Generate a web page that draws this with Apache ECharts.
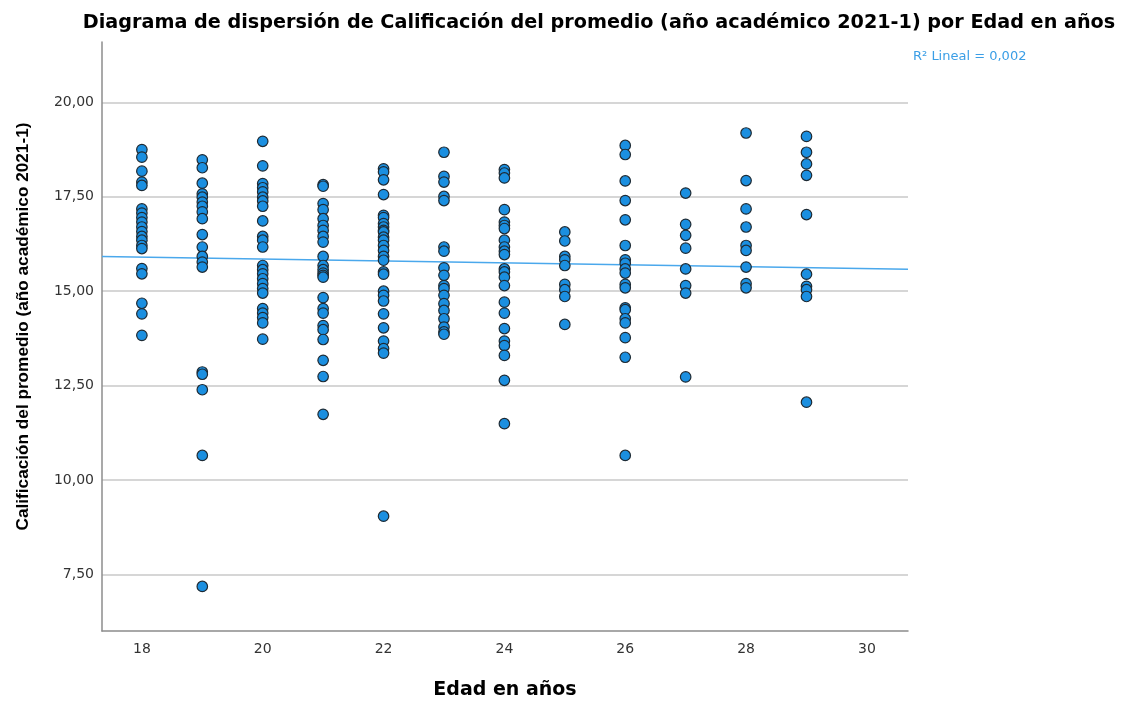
<!DOCTYPE html>
<html>
<head>
<meta charset="utf-8">
<script src="https://cdn.jsdelivr.net/npm/echarts@6/dist/echarts.min.js"></script>
<style>
html,body{margin:0;padding:0;background:#fff;}
#c{width:1126px;height:702px;}
</style>
</head>
<body>
<div id="c"></div>
<script>
const titleText = 'Diagrama de dispersión de Calificación del promedio (año académico 2021-1) por Edad en años';
const xName = 'Edad en años';
const yName = 'Calificación del promedio (año académico 2021-1)';
const r2Text = 'R² Lineal = 0,002';
const xTicks = [18, 20, 22, 24, 26, 28, 30];
const yTicks = [7.5, 10, 12.5, 15, 17.5, 20];

const age18 = [18.75, 18.55, 18.18, 17.89, 17.80, 17.18, 17.07, 16.95, 16.83, 16.70, 16.58, 16.45, 16.35, 16.21, 16.13, 15.60, 15.46, 14.68, 14.40, 13.83];
const age19 = [18.48, 18.27, 17.86, 17.58, 17.49, 17.36, 17.25, 17.10, 16.92, 16.50, 16.17, 15.92, 15.77, 15.64, 12.86, 12.80, 12.39, 10.65, 7.18];
const age20 = [18.97, 18.32, 17.85, 17.74, 17.63, 17.49, 17.39, 17.25, 16.86, 16.45, 16.35, 16.17, 15.68, 15.57, 15.46, 15.33, 15.20, 15.07, 14.95, 14.54, 14.42, 14.30, 14.16, 13.73];
const age21 = [17.82, 17.78, 17.32, 17.16, 16.92, 16.74, 16.61, 16.45, 16.30, 15.92, 15.68, 15.57, 15.48, 15.42, 15.37, 14.83, 14.54, 14.42, 14.09, 13.98, 13.72, 13.17, 12.74, 11.74];
const age22 = [18.24, 18.16, 17.95, 17.56, 17.01, 16.95, 16.79, 16.70, 16.61, 16.57, 16.43, 16.35, 16.21, 16.08, 15.92, 15.82, 15.51, 15.45, 15.00, 14.89, 14.74, 14.40, 14.03, 13.68, 13.48, 13.36, 9.04];
const age23 = [18.68, 18.04, 17.89, 17.51, 17.40, 16.17, 16.06, 15.62, 15.42, 15.15, 15.07, 14.89, 14.67, 14.49, 14.27, 14.05, 13.92, 13.86];
const age24 = [18.22, 18.13, 18.00, 17.16, 16.83, 16.74, 16.66, 16.35, 16.17, 16.06, 15.97, 15.59, 15.51, 15.37, 15.15, 14.71, 14.42, 14.01, 13.68, 13.56, 13.30, 12.64, 11.49];
const age25 = [16.57, 16.33, 15.92, 15.83, 15.68, 15.18, 15.04, 14.86, 14.12];
const age26 = [18.86, 18.62, 17.92, 17.40, 16.89, 16.21, 15.83, 15.74, 15.59, 15.48, 15.18, 15.09, 14.56, 14.51, 14.27, 14.16, 13.77, 13.25, 10.65];
const age27 = [17.60, 16.77, 16.48, 16.14, 15.59, 15.15, 14.95, 12.73];
const age28 = [19.19, 17.93, 17.18, 16.70, 16.21, 16.08, 15.64, 15.20, 15.09];
const age29 = [19.10, 18.68, 18.37, 18.07, 17.03, 15.45, 15.13, 15.04, 14.86, 12.06];

const ages = [18, 19, 20, 21, 22, 23, 24, 25, 26, 27, 28, 29];
const groups = [age18, age19, age20, age21, age22, age23, age24, age25, age26, age27, age28, age29];

// axis range and the fitted line (values at the two x-range ends)
const xRange = [17.34, 30.68];
const yRange = [6.0, 21.6];
const fitY = [15.92, 15.58];

const points = [];
ages.forEach((a, i) => groups[i].forEach(v => points.push([a, v])));
const fit = [[xRange[0], fitY[0]], [xRange[1], fitY[1]]];

const chart = echarts.init(document.getElementById('c'), null, {renderer: 'canvas'});
const fmt = v => v.toFixed(2).replace('.', ',');
chart.setOption({
  animation: false,
  backgroundColor: '#ffffff',
  title: {
    text: titleText,
    left: 594, top: 9, textAlign: 'center',
    textStyle: {fontFamily: 'DejaVu Sans', fontWeight: 'bold', fontSize: 19.2, color: '#000'}
  },
  graphic: [{
    type: 'text', left: 913, top: 50,
    style: {text: r2Text, fill: '#3a9ee6', font: '13px "DejaVu Sans"'}
  }],
  grid: {left: 102, right: 218, top: 42, bottom: 71, containLabel: false, outerBoundsMode: 'none'},
  xAxis: {
    type: 'value', min: xRange[0], max: xRange[1],
    name: xName, nameLocation: 'middle', nameGap: 50,
    nameTextStyle: {fontFamily: 'DejaVu Sans', fontWeight: 'bold', fontSize: 19, color: '#000'},
    axisLine: {show: true, onZero: false, lineStyle: {color: '#8c8c8c', width: 1.5}},
    axisTick: {show: false, customValues: xTicks},
    axisLabel: {customValues: xTicks, margin: 11, fontFamily: 'DejaVu Sans', fontSize: 14, color: '#333', formatter: v => String(v)},
    splitLine: {show: false}
  },
  yAxis: {
    type: 'value', min: yRange[0], max: yRange[1],
    name: yName, nameLocation: 'middle', nameGap: 70,
    nameTextStyle: {fontFamily: '"Liberation Sans", Arial', fontWeight: 'bold', fontSize: 17.2, color: '#000', padding: [0, 0, 0, 20]},
    axisLine: {show: true, onZero: false, lineStyle: {color: '#8c8c8c', width: 1.5}},
    axisTick: {show: false, customValues: yTicks},
    axisLabel: {customValues: yTicks, margin: 8, fontFamily: 'DejaVu Sans', fontSize: 14, color: '#333', formatter: v => fmt(v)},
    splitLine: {show: true, lineStyle: {color: '#c8c8c8', width: 1.5}}
  },
  series: [
    {
      type: 'line', data: fit, symbol: 'none', silent: true, z: 1,
      lineStyle: {color: '#4aa8ec', width: 1.5}
    },
    {
      type: 'scatter', data: points, symbol: 'circle', symbolSize: 10.5, z: 2,
      itemStyle: {color: '#1b8fe0', borderColor: '#1e2a33', borderWidth: 1.2, opacity: 1}
    }
  ]
});
</script>
</body>
</html>
